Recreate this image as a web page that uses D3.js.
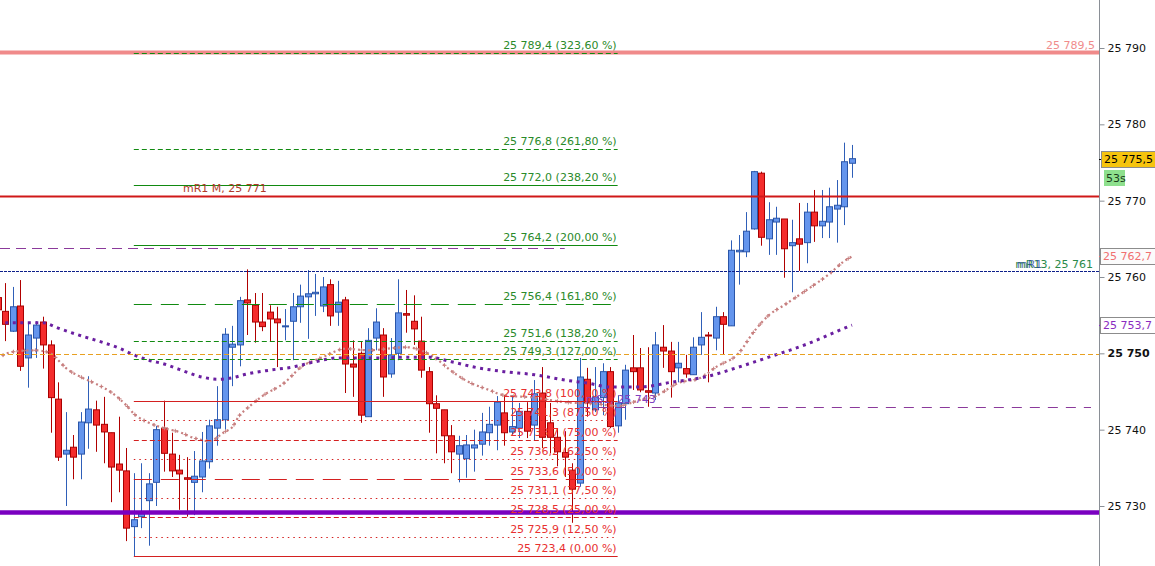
<!DOCTYPE html>
<html><head><meta charset="utf-8">
<script src="https://cdn.jsdelivr.net/npm/d3@7"></script>
<style>
body{margin:0;background:#fff;}
svg{display:block;font-family:"DejaVu Sans",Verdana,sans-serif;}
</style>
</head><body>
<svg id="c" width="1155" height="566"></svg>
<script>
// ---------- DATA ----------
const opens  = [25757.3,25755.5,25752.9,25756.2,25749.4,25752.0,25754.1,25751.1,25744.0,25736.8,25737.7,25736.8,25740.9,25742.6,25740.7,25739.6,25735.5,25734.6,25727.3,25728.6,25730.7,25733.1,25740.2,25736.8,25734.7,25733.7,25733.1,25733.8,25735.8,25740.2,25741.3,25750.8,25751.1,25757.0,25756.3,25754.1,25755.4,25754.5,25753.5,25754.2,25756.1,25757.4,25757.8,25756.2,25759.0,25755.4,25757.0,25748.6,25750.0,25741.7,25752.0,25752.4,25747.3,25750.0,25755.2,25754.2,25751.6,25747.6,25743.4,25742.6,25739.2,25736.8,25736.2,25737.6,25738.1,25739.6,25740.6,25742.2,25739.7,25740.2,25742.4,25740.6,25744.8,25740.9,25739.0,25737.0,25734.7,25733.0,25746.6,25742.6,25744.2,25747.6,25740.5,25743.4,25748.1,25748.1,25745.1,25744.8,25750.8,25750.3,25748.1,25748.0,25747.2,25751.1,25752.4,25752.0,25754.8,25753.6,25763.3,25763.3,25766.3,25773.6,25765.0,25767.2,25767.6,25764.1,25765.0,25764.5,25768.5,25766.7,25767.2,25768.9,25769.2,25774.9];
const highs  = [25759.0,25759.2,25758.7,25759.6,25754.0,25754.2,25754.8,25751.7,25746.2,25742.3,25739.3,25742.3,25747.0,25743.8,25744.3,25739.6,25741.7,25737.6,25734.3,25735.6,25734.3,25740.5,25743.8,25739.6,25736.7,25736.4,25737.2,25739.7,25741.3,25745.7,25753.3,25753.6,25757.4,25761.0,25757.9,25757.9,25756.3,25756.1,25755.8,25757.9,25759.0,25760.9,25760.4,25760.0,25759.7,25759.5,25757.4,25751.7,25751.6,25753.3,25755.9,25753.3,25752.0,25759.7,25758.3,25757.6,25754.8,25748.2,25744.5,25742.6,25740.6,25739.2,25739.3,25740.0,25742.2,25743.0,25744.4,25744.5,25744.5,25743.5,25743.6,25746.5,25748.2,25743.5,25740.2,25739.8,25735.6,25749.4,25748.1,25748.2,25748.7,25748.2,25744.5,25748.5,25752.4,25750.7,25750.8,25752.8,25753.7,25751.5,25751.5,25749.8,25752.1,25755.4,25752.8,25756.1,25755.4,25764.8,25765.5,25768.5,25773.9,25773.8,25769.8,25769.2,25767.6,25767.5,25769.7,25769.7,25771.4,25771.4,25771.7,25772.7,25777.6,25777.3];
const lows   = [25754.6,25751.6,25752.8,25747.7,25745.5,25749.4,25748.0,25739.6,25735.9,25730.0,25733.5,25733.5,25737.5,25737.1,25735.6,25730.5,25731.8,25725.4,25723.4,25727.1,25724.8,25730.0,25734.5,25733.8,25729.5,25728.6,25728.8,25731.8,25734.9,25737.9,25740.0,25745.7,25748.3,25752.4,25751.4,25752.9,25751.6,25748.2,25751.7,25749.1,25754.0,25751.9,25754.9,25755.4,25753.6,25753.6,25744.8,25744.3,25740.9,25741.7,25750.4,25744.3,25746.8,25749.1,25752.7,25751.1,25746.8,25739.6,25736.9,25735.6,25734.3,25733.1,25733.7,25734.5,25736.6,25737.9,25737.3,25737.9,25739.3,25738.9,25738.9,25738.6,25737.6,25736.9,25735.2,25733.8,25727.8,25732.5,25741.7,25742.3,25741.9,25740.2,25739.6,25741.3,25745.2,25744.9,25743.0,25743.9,25748.1,25744.2,25746.2,25746.8,25747.2,25749.8,25746.2,25750.4,25749.9,25753.6,25759.0,25762.6,25766.2,25764.1,25762.9,25762.9,25759.9,25758.0,25760.8,25761.8,25764.6,25765.1,25765.1,25764.5,25766.8,25773.0];
const closes = [25755.7,25753.8,25756.1,25748.3,25752.4,25753.7,25751.1,25744.2,25736.4,25737.3,25736.4,25741.0,25742.7,25740.6,25739.7,25735.1,25734.7,25727.1,25728.2,25729.0,25732.9,25740.0,25736.9,25734.6,25734.2,25733.5,25733.9,25735.9,25740.5,25741.3,25752.5,25751.2,25756.9,25756.6,25754.1,25753.5,25754.5,25754.0,25753.6,25756.1,25757.5,25757.8,25758.0,25758.7,25754.9,25756.7,25748.6,25748.2,25741.9,25751.7,25754.1,25746.9,25749.8,25755.3,25755.0,25753.2,25747.8,25743.4,25742.8,25739.2,25737.1,25737.9,25738.0,25738.0,25739.7,25740.7,25743.6,25739.6,25740.4,25742.4,25739.8,25744.7,25739.0,25739.0,25737.1,25736.4,25732.2,25746.9,25743.5,25744.3,25747.6,25740.4,25743.5,25747.8,25747.6,25745.2,25744.9,25751.1,25750.3,25747.6,25748.7,25747.3,25750.8,25752.1,25752.3,25754.8,25753.8,25763.5,25763.5,25766.0,25773.8,25765.2,25767.5,25767.7,25763.7,25764.5,25764.3,25768.5,25766.7,25767.3,25769.2,25769.4,25775.1,25775.5];

// moving averages, read at sample candle indexes
const maSlowIdx = [1,6,8,11,14,16,18,20,22,24,27,29,31,33,36,39,42,45,48,51,54,57,60,63,67,71,75,78,81,85,89,94,98,102,107,112,113];
const maSlowVal = [25754.0,25754.0,25753.3,25752.3,25751.4,25750.7,25749.8,25749.1,25748.6,25747.9,25746.9,25746.6,25746.8,25747.3,25747.8,25748.2,25748.9,25749.4,25749.4,25749.4,25749.5,25749.5,25748.9,25748.2,25747.6,25747.2,25746.5,25746.1,25745.6,25745.6,25746.2,25747.0,25748.2,25749.5,25751.2,25753.3,25753.7];
const maFastIdx = [0,2,5,7,8,9,11,13,15,17,18,20,22,24,26,28,30,31,32,33,35,38,40,43,46,49,54,56,58,60,62,65,67,71,75,79,82,85,87,90,93,95,98,100,102,104,107,110,112,113];
const maFastVal = [25749.4,25750.2,25750.4,25750.0,25749.1,25748.1,25746.9,25746.0,25744.9,25743.2,25742.1,25740.9,25740.2,25739.7,25738.9,25738.5,25739.7,25740.3,25741.9,25742.8,25744.4,25746.2,25748.1,25749.5,25750.6,25750.4,25750.8,25750.4,25749.3,25747.7,25746.4,25745.2,25744.5,25744.2,25743.6,25743.4,25743.1,25743.9,25744.4,25746.1,25746.8,25748.2,25750.0,25752.8,25755.0,25756.3,25758.3,25760.4,25762.1,25762.7];

// Fibonacci tool
const fibPct   = [0,12.5,25,37.5,50,62.5,75,87.5,100,127,138.2,161.8,200,238.2,261.8,323.6];
const fibPrice = [25723.4,25725.9,25728.5,25731.1,25733.6,25736.2,25738.7,25741.3,25743.8,25749.3,25751.6,25756.4,25764.2,25772.0,25776.8,25789.4];
const fibFrom = 18, fibTo = 82;

// horizontal levels
const levelNames  = ["top","mR1M","mR13","pivot","support","dashHigh","dashLow"];
const levelPrices = [25789.5,25770.6,25760.8,25749.95,25729.2,25763.8,25743.0];
const dashHighTo = 75, dashLowFrom = 77;

// axis ticks
const tickValues = [25730,25740,25750,25760,25770,25780,25790];
const lastPrice = 25775.5, timerText = "53s";

// ---------- DRAW ----------
const W = 1155, H = 566, axisX = 1099;
const svg = d3.select("#c");
const y = d3.scaleLinear().domain([25730,25790]).range([506,48]);
const x = d3.scaleLinear().domain([1,113]).range([5.3,852]);
const loc = d3.formatLocale({decimal:",", thousands:" ", grouping:[3], currency:["",""]});
const f0 = loc.format(",.0f"), f1 = loc.format(",.1f"), f2 = loc.format(",.2f");
const L = Object.fromEntries(levelNames.map((n,i)=>[n,levelPrices[i]]));
const py = v => Math.round(y(v)) + 0.5;

svg.append("rect").attr("width",W).attr("height",H).attr("fill","#fff");
svg.append("defs").append("clipPath").attr("id","pc").append("rect")
  .attr("x",0).attr("y",0).attr("width",axisX).attr("height",H);
const plot = svg.append("g").attr("clip-path","url(#pc)");

// candles
const candles = opens.map((o,i)=>({i,o,h:highs[i],l:lows[i],c:closes[i]}));
const cg = plot.append("g").selectAll("g").data(candles).join("g");
cg.append("line")
  .attr("x1",d=>Math.round(x(d.i))+0.5).attr("x2",d=>Math.round(x(d.i))+0.5)
  .attr("y1",d=>y(d.h)).attr("y2",d=>y(d.l))
  .attr("stroke",d=>d.c>=d.o?"#2f5fb8":"#b00000").attr("stroke-width",1);
cg.append("rect")
  .attr("x",d=>Math.round(x(d.i))-2.5).attr("width",6)
  .attr("y",d=>y(Math.max(d.o,d.c)))
  .attr("height",d=>Math.max(1,Math.abs(y(d.o)-y(d.c))))
  .attr("fill",d=>d.c>=d.o?"#6495ed":"#f42c2c")
  .attr("stroke",d=>d.c>=d.o?"#2a55a8":"#a80000").attr("stroke-width",1);

// moving averages
const line = d3.line().x(d=>x(d[0])).y(d=>y(d[1])).curve(d3.curveMonotoneX);
const fastPath = plot.append("path").attr("d",line(maFastIdx.map((d,i)=>[d,maFastVal[i]])))
  .attr("fill","none").attr("stroke","#c77f7f").attr("stroke-width",2.2).attr("stroke-dasharray","2,3");
(function(){
  const node = fastPath.node(), len = node.getTotalLength();
  const pts = d3.range(6, len, 11).map(s=>node.getPointAtLength(s));
  plot.append("g").selectAll("path").data(pts).join("path")
    .attr("d",p=>`M${p.x-2},${p.y}H${p.x+2}M${p.x},${p.y-2}V${p.y+2}`)
    .attr("stroke","#c77f7f").attr("stroke-width",1);
})();
plot.append("path").attr("d",line(maSlowIdx.map((d,i)=>[d,maSlowVal[i]])))
  .attr("fill","none").attr("stroke","#6a1fa0").attr("stroke-width",3).attr("stroke-dasharray","3,4.5");

// horizontal levels
function hline(v, x1, x2, color, w, dash){
  plot.append("line").attr("x1",x1).attr("x2",x2).attr("y1",py(v)).attr("y2",py(v))
    .attr("stroke",color).attr("stroke-width",w).attr("stroke-dasharray",dash||null);
}
hline(L.top, 0, axisX, "#f08a8a", 4);
hline(L.mR1M, 0, axisX, "#d01818", 2.2);
hline(L.mR13, 0, axisX, "#0d1f8a", 1, "3,1");
hline(L.pivot, 0, axisX, "#e8a020", 1.2, "5,3");
hline(L.support, 0, axisX, "#7a00c0", 4.5);
hline(L.dashHigh, 0, x(dashHighTo), "#8b3a9b", 1.2, "10,6");
hline(L.dashLow, x(dashLowFrom), axisX-8, "#8b3a9b", 1.2, "10,8");

// fibonacci lines
function fibDash(p){
  if (p===0||p===100||p===200||p===238.2) return null;
  if (p===50||p===161.8) return "18,9";
  if (p===12.5||p===37.5||p===62.5||p===87.5) return "1.5,4";
  return "5,3";
}
const fibG = plot.append("g");
fibPct.forEach((p,i)=>{
  const col = p<=100 ? "#d42020" : "#118a11";
  fibG.append("line").attr("x1",x(fibFrom)).attr("x2",x(fibTo))
    .attr("y1",py(fibPrice[i])).attr("y2",py(fibPrice[i]))
    .attr("stroke",col).attr("stroke-width",1).attr("stroke-dasharray",fibDash(p));
});
fibPct.forEach((p,i)=>{
  const col = p<=100 ? "#e83030" : "#2a8a2a";
  fibG.append("text").attr("x",x(fibTo)-1).attr("y",y(fibPrice[i])-4)
    .attr("text-anchor","end").attr("font-size",11).attr("fill",col)
    .text(`${f1(fibPrice[i])} (${f2(p)} %)`);
});

// level labels
plot.append("text").attr("x",x(24.5)).attr("y",y(L.mR1M)-4).attr("font-size",11)
  .attr("fill","#b03a2a").text(`mR1 M, ${f0(L.mR1M)}`);
plot.append("text").attr("x",axisX-4).attr("y",y(L.top)-3).attr("font-size",11)
  .attr("text-anchor","end").attr("fill","#f08c8c").text(f1(L.top));
plot.append("text").attr("x",axisX-6).attr("y",y(L.mR13)-3).attr("font-size",11)
  .attr("text-anchor","end").attr("fill","#2a8a4a").text(`mR13, ${f0(L.mR13)}`);
plot.append("text").attr("x",axisX-82).attr("y",y(L.mR13)-3).attr("font-size",11)
  .attr("fill","#2a3f9a").attr("opacity",0.75).text("mR1");
plot.append("text").attr("x",x(dashLowFrom)+76).attr("y",y(L.dashLow)-4).attr("font-size",11)
  .attr("text-anchor","end").attr("fill","#8040c0").text(`mS1, ${f0(L.dashLow)}`);

// right axis
svg.append("rect").attr("x",axisX).attr("y",0).attr("width",W-axisX).attr("height",H).attr("fill","#fff");
const ax = svg.append("g").attr("transform",`translate(${axisX+0.5},0)`)
  .call(d3.axisRight(y).tickValues(tickValues).tickSize(5).tickPadding(3).tickFormat(f0));
ax.select(".domain").attr("stroke","#8a8f96").attr("d",`M0,0V${H}`);
ax.selectAll(".tick line").attr("stroke","#8a8f96");
ax.selectAll(".tick text").attr("font-size",11).attr("fill","#111")
  .attr("font-family","'DejaVu Sans',sans-serif")
  .attr("font-weight",d=>d===25750?"bold":"normal");

// right-side value boxes
function valBox(v, fill, textCol, label, bx, bw){
  const cy = y(v);
  svg.append("line").attr("x1",axisX).attr("x2",axisX+3).attr("y1",Math.round(cy)+0.5).attr("y2",Math.round(cy)+0.5).attr("stroke",textCol);
  svg.append("rect").attr("x",bx+0.5).attr("y",Math.round(cy)-7.5).attr("width",bw).attr("height",16)
    .attr("fill",fill).attr("stroke","#8c8c8c");
  svg.append("text").attr("x",bx+3).attr("y",cy+4).attr("font-size",11).attr("fill",textCol).text(label);
}
valBox(lastPrice, "#f6c40e", "#000", f1(lastPrice), axisX+2, 56);
svg.append("rect").attr("x",axisX+5).attr("y",Math.round(y(lastPrice))+11).attr("width",21).attr("height",16).attr("fill","#8ee08e");
svg.append("text").attr("x",axisX+7).attr("y",Math.round(y(lastPrice))+23).attr("font-size",11).attr("fill","#1b3a1b").text(timerText);
valBox(maFastVal[maFastVal.length-1], "#fbfbfb", "#f07070", f1(maFastVal[maFastVal.length-1]), axisX+1, 57);
valBox(maSlowVal[maSlowVal.length-1], "#fff", "#8a2bc0", f1(maSlowVal[maSlowVal.length-1]), axisX+1, 57);
</script>
</body></html>
